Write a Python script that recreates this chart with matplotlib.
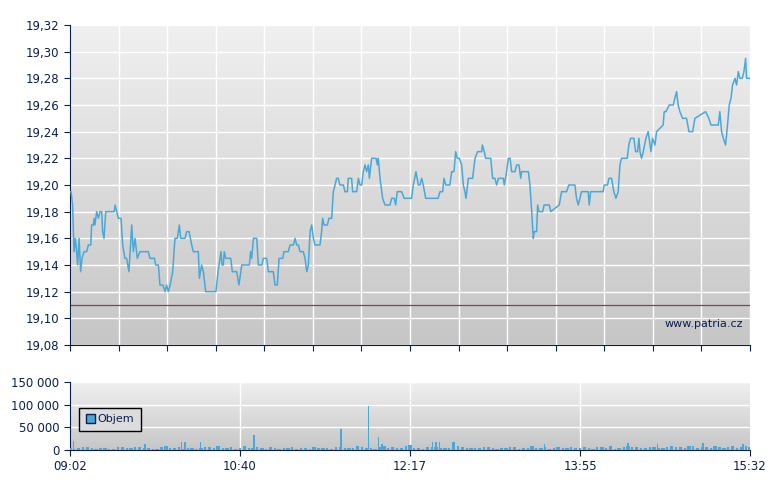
import numpy as np
import matplotlib
matplotlib.use("Agg")
import matplotlib.pyplot as plt
from matplotlib.ticker import FuncFormatter
from matplotlib.colors import LinearSegmentedColormap

# price: minutes after 09:02, price
t_price = [0.0,0.6,1.5,2.3,3.1,3.8,4.4,5.2,6.1,6.9,8.0,9.6,10.5,11.9,12.4,13.4,13.8,14.3,15.3,16.3,17.2,18.2,18.7,19.5,20.5,23.0,25.4,25.8,26.8,27.7,29.3,30.2,31.5,32.5,33.8,35.4,36.3,37.3,38.6,40.1,42.1,44.9,45.9,48.4,49.1,50.7,51.6,53.2,54.5,55.4,56.4,57.4,58.9,60.2,61.6,62.7,63.5,64.6,66.0,66.9,68.3,69.8,70.7,73.6,74.2,75.5,76.5,77.8,80.3,83.7,84.9,86.0,86.6,87.2,87.9,88.5,89.3,92.2,93.1,94.6,95.6,96.9,98.5,101.3,102.9,103.6,104.2,105.2,107.1,108.0,110.0,110.9,112.8,113.8,116.6,117.6,118.9,119.9,122.0,122.7,125.2,126.2,128.1,129.1,130.0,131.0,131.9,133.8,134.8,135.8,136.7,137.7,138.6,139.6,140.5,143.4,
    144.3,144.9,145.7,147.6,148.5,150.1,151.0,152.0,152.9,153.9,154.8,156.8,157.7,159.1,159.6,161.5,162.1,164.4,165.4,166.3,167.3,168.2,169.2,170.1,171.1,171.7,173.0,175.5,176.3,176.8,177.8,179.3,180.7,183.5,184.5,186.0,186.8,187.7,190.2,191.6,195.9,196.9,198.4,199.8,200.7,201.7,202.6,204.0,211.1,212.2,213.7,214.5,215.5,217.9,218.9,220.2,221.2,222.1,223.3,224.6,225.6,226.5,227.1,228.5,230.9,232.3,233.8,236.1,236.5,237.6,238.4,241.3,242.4,243.7,244.7,245.7,248.5,249.1,250.4,251.4,252.4,253.3,255.2,256.2,257.5,258.5,259.0,262.9,263.8,264.8,265.7,266.3,267.6,268.2,269.0,271.1,271.9,274.9,275.7,
    280.6,281.9,284.8,286.1,289.6,290.5,291.5,293.4,297.2,297.8,298.6,305.8,306.4,308.3,309.1,310.6,311.9,313.1,314.4,315.4,316.3,319.6,320.5,321.5,323.4,324.4,325.5,326.3,326.9,327.8,328.8,330.3,331.6,333.2,334.1,335.5,336.4,340.2,340.8,341.8,343.7,346.0,346.9,347.9,348.8,349.8,351.3,353.6,355.0,357.1,358.4,364.5,366.4,367.6,371.8,372.7,373.7,374.7,376.0,377.1,378.1,379.1,380.0,381.4,382.3,383.3,384.2,385.6,386.5,387.5,388.0,389.6]
price = [19.195,19.195,19.185,19.15,19.16,19.15,19.14,19.16,19.135,19.145,19.15,19.15,19.155,19.155,19.17,19.17,19.175,19.17,19.18,19.175,19.18,19.18,19.165,19.16,19.18,19.18,19.18,19.185,19.18,19.175,19.175,19.155,19.145,19.145,19.135,19.17,19.15,19.16,19.145,19.15,19.15,19.15,19.145,19.145,19.14,19.14,19.125,19.125,19.12,19.125,19.12,19.125,19.135,19.16,19.16,19.17,19.16,19.16,19.16,19.165,19.165,19.155,19.15,19.15,19.13,19.14,19.135,19.12,19.12,19.12,19.135,19.145,19.15,19.14,19.14,19.15,19.145,19.145,19.135,19.135,19.135,19.125,19.14,19.14,19.14,19.15,19.145,19.16,19.16,19.14,19.14,19.145,19.145,19.135,19.135,19.125,19.125,19.145,19.145,19.15,19.15,19.155,19.155,19.16,19.155,19.155,19.15,19.15,19.145,19.135,19.14,19.165,19.17,19.16,19.155,19.155,
    19.165,19.175,19.17,19.17,19.175,19.175,19.195,19.2,19.205,19.205,19.2,19.2,19.195,19.195,19.205,19.205,19.195,19.195,19.205,19.2,19.2,19.21,19.215,19.21,19.215,19.205,19.22,19.22,19.215,19.22,19.205,19.19,19.185,19.185,19.19,19.19,19.185,19.195,19.195,19.19,19.19,19.2,19.21,19.2,19.2,19.205,19.2,19.19,19.19,19.195,19.195,19.205,19.2,19.2,19.21,19.21,19.225,19.22,19.22,19.215,19.2,19.195,19.19,19.205,19.205,19.22,19.225,19.225,19.23,19.225,19.22,19.22,19.205,19.205,19.2,19.205,19.205,19.2,19.21,19.22,19.22,19.21,19.21,19.215,19.215,19.205,19.21,19.21,19.2,19.18,19.16,19.165,19.165,19.185,19.18,19.18,19.185,19.185,19.18,
    19.185,19.195,19.195,19.2,19.2,19.19,19.185,19.195,19.195,19.185,19.195,19.195,19.2,19.2,19.205,19.205,19.195,19.19,19.195,19.215,19.22,19.22,19.23,19.235,19.235,19.225,19.225,19.235,19.225,19.22,19.225,19.235,19.24,19.225,19.235,19.23,19.24,19.245,19.255,19.255,19.26,19.26,19.265,19.27,19.26,19.255,19.25,19.25,19.24,19.24,19.25,19.255,19.25,19.245,19.245,19.255,19.24,19.235,19.23,19.245,19.26,19.265,19.275,19.28,19.275,19.285,19.28,19.28,19.285,19.295,19.28,19.28]

ref_level = 19.11

# volume: baseline every 5 min plus spikes
t_vol = list(range(0, 391, 5))
vol = [5000,4000,6000,3000,5000,2000,6000,4000,7000,5000,3000,9000,4000,3000,5000,4000,6000,9000,5000,3000,8000,5000,4000,6000,3000,5000,2000,4000,6000,5000,3000,7000,5000,8000,4000,3000,9000,6000,5000,10000,4000,6000,7000,5000,18000,6000,5000,4000,7000,3000,5000,6000,4000,8000,5000,3000,6000,4000,5000,7000,3000,6000,8000,5000,9000,6000,4000,7000,5000,8000,6000,9000,5000,6000,8000,5000,9000,7000,6000]
t_vol2 = [x + 2.5 for x in t_vol[:-1]]
vol2 = [3000,6000,4000,5000,3000,7000,5000,6000,4000,3000,7000,5000,6000,4000,3000,6000,5000,4000,7000,5000,4000,6000,3000,5000,4000,6000,5000,3000,5000,4000,6000,5000,4000,6000,5000,7000,4000,5000,8000,5000,3000,6000,5000,4000,9000,5000,4000,6000,5000,4000,6000,3000,5000,4000,6000,5000,4000,7000,5000,4000,6000,5000,3000,7000,6000,5000,6000,4000,7000,6000,5000,8000,6000,5000,7000,6000,5000,8000]
t_spike = [2, 43, 64, 66, 75, 105.5, 155.4, 171.2, 177, 179, 208, 210, 212, 272, 320, 337, 363, 386]
v_spike = [20000, 14000, 18000, 17000, 17000, 33000, 46000, 97000, 28000, 13000, 18000, 18000, 18000, 14000, 16000, 14000, 15000, 13000]

tick_labels = ["09:02", "10:40", "12:17", "13:55", "15:32"]

W, H = 780, 490
fig = plt.figure(figsize=(W/100, H/100), dpi=100)
navy = "#0a1e50"
grad = np.linspace(0, 1, 256).reshape(-1, 1)
cmap = LinearSegmentedColormap.from_list("g", ["#f0f0f0", "#c6c6c6"])

def style(ax):
    ax.imshow(grad, aspect="auto", cmap=cmap, extent=[0, 1, 0, 1],
              transform=ax.transAxes, zorder=0)
    for s in ["top", "right"]:
        ax.spines[s].set_visible(False)
    for s in ["left", "bottom"]:
        ax.spines[s].set_color(navy)
    ax.tick_params(colors=navy, labelcolor=navy, labelsize=8.5, length=4)

ax1 = fig.add_axes([70/W, 1-345/H, 680/W, 320/H])
style(ax1)
for x in np.linspace(0, 390, 15):
    ax1.axvline(x, color="white", lw=1, zorder=1)
for y in np.arange(19.08, 19.321, 0.02):
    ax1.axhline(y, color="white", lw=1, zorder=1)
ax1.axhline(ref_level, color="#7a4a4a", lw=0.9, zorder=2)
ax1.plot(t_price, price, color="#4aa8d8", lw=1.1, zorder=3)
ax1.set_xlim(0, 390)
ax1.set_ylim(19.08, 19.32)
ax1.set_xticks(np.linspace(0, 390, 15))
ax1.set_xticklabels([])
ax1.set_yticks(np.arange(19.08, 19.321, 0.02))
ax1.yaxis.set_major_formatter(FuncFormatter(lambda v, p: f"{v:.2f}".replace(".", ",")))
ax1.text(0.99, 0.05, "www.patria.cz", transform=ax1.transAxes, ha="right",
         va="bottom", fontsize=8, color=navy, zorder=4)

ax2 = fig.add_axes([70/W, 1-450/H, 680/W, 68/H])
style(ax2)
xt = np.linspace(0, 390, 5)
for x in xt[1:-1]:
    ax2.axvline(x, color="white", lw=1, zorder=1)
for y in [50000, 100000, 150000]:
    ax2.axhline(y, color="white", lw=1, zorder=1)
ax2.bar(t_vol, vol, width=2.0, color="#4aa8d8", zorder=3, label="Objem")
ax2.bar(t_vol2, vol2, width=1.2, color="#4aa8d8", zorder=3)
ax2.bar(t_spike, v_spike, width=0.8, color="#4aa8d8", zorder=3)
ax2.set_xlim(0, 390)
ax2.set_ylim(0, 150000)
ax2.set_xticks(xt)
ax2.set_xticklabels(tick_labels)
ax2.set_yticks([0, 50000, 100000, 150000])
ax2.yaxis.set_major_formatter(FuncFormatter(lambda v, p: f"{int(v):,}".replace(",", " ")))
leg = ax2.legend(loc="center left", bbox_to_anchor=(0.005, 0.45), fontsize=8,
                 frameon=True, fancybox=False, handlelength=0.8, handleheight=0.8,
                 handletextpad=0.3, borderpad=0.6, labelcolor=navy)
leg.get_frame().set_edgecolor("black")
leg.get_frame().set_facecolor("#dcdcdc")
leg.get_frame().set_alpha(1)
for h in leg.legend_handles:
    h.set_edgecolor(navy)

fig.savefig("out.png", dpi=100)
